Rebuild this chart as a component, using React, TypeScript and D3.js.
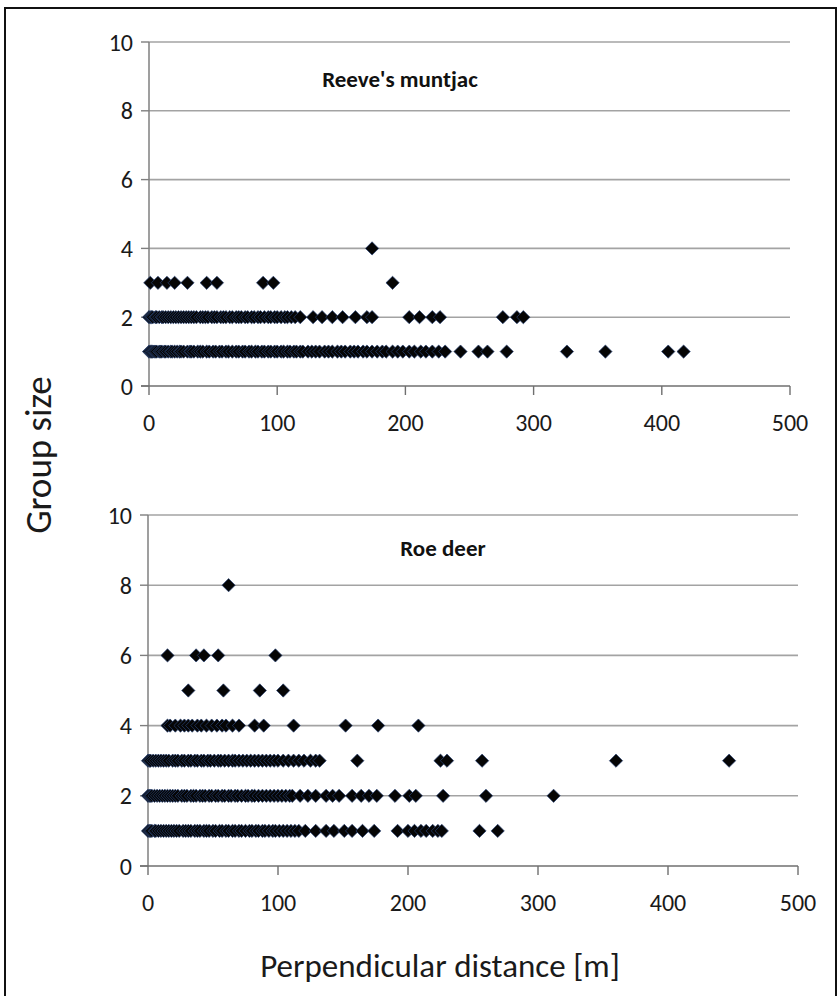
import React from "react";
import * as d3 from "d3";

// ---- Data (perpendicular distance [m] per observation, grouped by group size) ----
const muntjacSize1 = [0,1,2,3,4,5,6,8,9,10,12,13,15,17,18,20,22,24,25,27,30,32,33,35,38,40,42,45,47,50,52,55,57,60,62,65,68,70,73,75,78,80,83,85,88,90,93,95,98,100,103,105,108,110,113,115,118,120,124,127,130,133,137,140,143,147,150,153,157,160,163,167,170,174,178,182,185,190,194,198,203,207,212,216,221,226,231,243,257,264,279,326,356,405,417];
const muntjacSize2 = [0,1,2,3,5,6,8,10,11,13,15,17,19,21,23,25,27,29,31,33,35,37,40,42,44,46,49,51,53,56,58,60,63,65,68,70,72,75,77,80,82,85,87,90,93,95,98,100,103,106,108,111,114,118,128,135,143,151,161,170,174,203,211,221,227,276,287,292];
const muntjacSize3 = [1,7,14,20,30,45,53,89,97,190];
const muntjacSize4 = [174];

const roeSize1 = [0,1,2,3,5,6,8,10,12,14,16,18,20,22,24,27,29,31,33,36,38,40,43,45,47,50,52,55,57,60,62,65,67,70,72,75,78,80,83,85,88,90,93,96,98,101,104,107,110,113,116,121,129,137,143,151,157,165,174,192,200,205,210,214,219,223,226,255,269];
const roeSize2 = [0,1,2,3,5,7,9,11,13,15,17,19,21,23,26,28,30,33,35,37,40,42,44,47,49,52,54,57,59,62,64,67,69,72,75,77,80,82,85,88,91,94,97,100,103,106,109,111,117,123,129,137,142,147,157,164,170,176,190,201,206,227,260,312];
const roeSize3 = [0,1,2,4,6,8,10,12,14,16,19,21,23,26,28,31,33,36,38,41,43,46,48,51,54,56,59,62,65,67,70,73,76,79,82,85,88,91,94,97,100,104,108,112,116,120,125,129,132,161,225,230,257,360,447];
const roeSize4 = [15,17,21,25,28,31,34,38,41,45,49,53,57,60,65,70,82,89,112,152,177,208];
const roeSize5 = [31,58,86,104];
const roeSize6 = [15,37,43,54,98];
const roeSize8 = [62];

const xTicks = [0, 100, 200, 300, 400, 500];
const yTicks = [0, 2, 4, 6, 8, 10];

const FONT = "Carlito, Lato, 'Open Sans', sans-serif";

type Row = { size: number; xs: number[] };

function Panel({
  title, titleX, titleY, rows, x0, x1, y0, y1,
}: {
  title: string; titleX: number; titleY: number; rows: Row[];
  x0: number; x1: number; y0: number; y1: number;
}) {
  const x = d3.scaleLinear().domain([0, 500]).range([x0, x1]);
  const y = d3.scaleLinear().domain([0, 10]).range([y0, y1]);
  const diamond = d3.symbol().type(d3.symbolDiamond2).size(112)() as string;
  const pts: { cx: number; cy: number }[] = [];
  rows.forEach((r) => r.xs.forEach((v) => pts.push({ cx: x(v), cy: y(r.size) })));
  return (
    <g>
      {yTicks.filter((t) => t > 0).map((t) => (
        <line key={"g" + t} x1={x0} x2={x1} y1={y(t)} y2={y(t)} stroke="#a3a3a3" strokeWidth={1.6} />
      ))}
      {yTicks.map((t) => (
        <g key={"yt" + t}>
          <line x1={x0 - 8} x2={x0} y1={y(t)} y2={y(t)} stroke="#7f7f7f" strokeWidth={1.4} />
          <text x={x0 - 16} y={y(t)} dy="0.36em" textAnchor="end" fontSize={24} fill="#1a1a1a" fontFamily={FONT}>{t}</text>
        </g>
      ))}
      {xTicks.map((t) => (
        <g key={"xt" + t}>
          <line x1={x(t)} x2={x(t)} y1={y0} y2={y0 + 9} stroke="#6f6f6f" strokeWidth={1.4} />
          <text x={x(t)} y={y0 + 36} dy="0.36em" textAnchor="middle" fontSize={24} fill="#1a1a1a" fontFamily={FONT}>{t}</text>
        </g>
      ))}
      <line x1={x0} x2={x0} y1={y1} y2={y0} stroke="#7f7f7f" strokeWidth={1.5} />
      <line x1={x0 - 8} x2={x1} y1={y0} y2={y0} stroke="#6f6f6f" strokeWidth={1.6} />
      <text x={titleX} y={titleY} dy="0.36em" textAnchor="middle" fontSize={23} fontWeight="bold" fill="#111" fontFamily={FONT}>{title}</text>
      {pts.map((p, i) => (
        <path key={i} d={diamond} transform={`translate(${p.cx},${p.cy})`} fill="#050505" stroke="#2a4476" strokeWidth={0.7} />
      ))}
    </g>
  );
}

export default function App() {
  const muntjacRows: Row[] = [
    { size: 1, xs: muntjacSize1 },
    { size: 2, xs: muntjacSize2 },
    { size: 3, xs: muntjacSize3 },
    { size: 4, xs: muntjacSize4 },
  ];
  const roeRows: Row[] = [
    { size: 1, xs: roeSize1 },
    { size: 2, xs: roeSize2 },
    { size: 3, xs: roeSize3 },
    { size: 4, xs: roeSize4 },
    { size: 5, xs: roeSize5 },
    { size: 6, xs: roeSize6 },
    { size: 8, xs: roeSize8 },
  ];
  return (
    <svg width={838} height={996} style={{ position: "absolute", left: 0, top: 0, background: "#fff" }}>
      <rect x={0} y={0} width={838} height={996} fill="#fff" />
      <rect x={5} y={8} width={831} height={1000} fill="none" stroke="#111" strokeWidth={2} />
      <Panel title="Reeve's muntjac" titleX={400} titleY={79} rows={muntjacRows} x0={149} x1={790} y0={386} y1={42} />
      <Panel title="Roe deer" titleX={443} titleY={548} rows={roeRows} x0={148} x1={798} y0={866} y1={515} />
      <text transform="translate(38,455) rotate(-90)" dy="0.36em" textAnchor="middle" fontSize={37} fill="#1a1a1a" fontFamily={FONT}>Group size</text>
      <text x={440} y={965} dy="0.36em" textAnchor="middle" fontSize={33} fill="#1a1a1a" fontFamily={FONT}>Perpendicular distance [m]</text>
    </svg>
  );
}
